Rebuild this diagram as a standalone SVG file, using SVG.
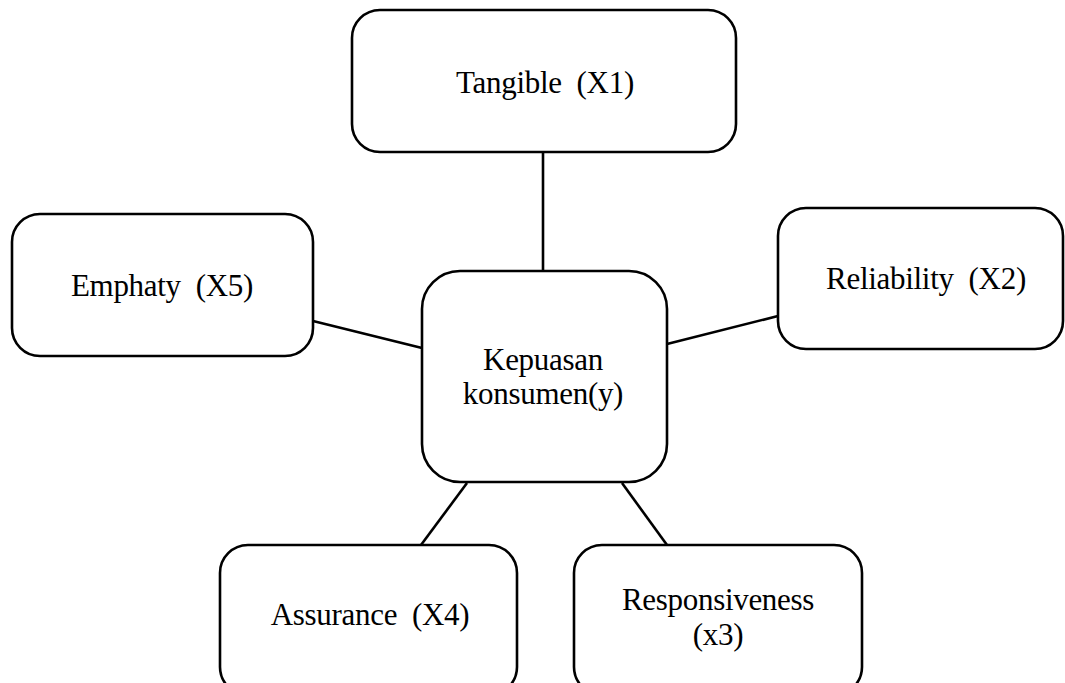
<svg xmlns="http://www.w3.org/2000/svg" width="1065" height="683" viewBox="0 0 1065 683">
<style>
.box{fill:#fff;stroke:#000;stroke-width:2.6}
.lbl{font-family:"Liberation Serif","Times New Roman",serif;font-size:31px;letter-spacing:-0.3px;fill:#000;text-anchor:middle;white-space:pre}
.con{stroke:#000;stroke-width:2.6;fill:none}
</style>
<rect width="1065" height="683" fill="#fff"/>
<g id="connectors">
<line class="con" x1="543" y1="152" x2="543" y2="271"/>
<line class="con" x1="313" y1="321" x2="422" y2="348"/>
<line class="con" x1="667" y1="344" x2="778" y2="316"/>
<line class="con" x1="467" y1="483" x2="421" y2="545"/>
<line class="con" x1="622" y1="483" x2="667" y2="545"/>
</g>
<g id="tangible">
<rect class="box" x="352" y="10" width="384" height="142" rx="28"/>
<text class="lbl" x="545" y="93" xml:space="preserve">Tangible  (X1)</text>
</g>
<g id="emphaty">
<rect class="box" x="12" y="214" width="301" height="142" rx="28"/>
<text class="lbl" x="162" y="296" xml:space="preserve">Emphaty  (X5)</text>
</g>
<g id="reliability">
<rect class="box" x="778" y="208" width="285" height="141" rx="28"/>
<text class="lbl" x="926" y="289" xml:space="preserve">Reliability  (X2)</text>
</g>
<g id="kepuasan">
<rect class="box" x="422" y="271" width="245" height="211" rx="38"/>
<text class="lbl" x="543" y="370">Kepuasan</text>
<text class="lbl" x="543" y="404">konsumen(y)</text>
</g>
<g id="assurance">
<rect class="box" x="220" y="545" width="297" height="150" rx="28"/>
<text class="lbl" x="370" y="625" xml:space="preserve">Assurance  (X4)</text>
</g>
<g id="responsiveness">
<rect class="box" x="574" y="545" width="288" height="150" rx="28"/>
<text class="lbl" x="718" y="610">Responsiveness</text>
<text class="lbl" x="718" y="645">(x3)</text>
</g>
</svg>
